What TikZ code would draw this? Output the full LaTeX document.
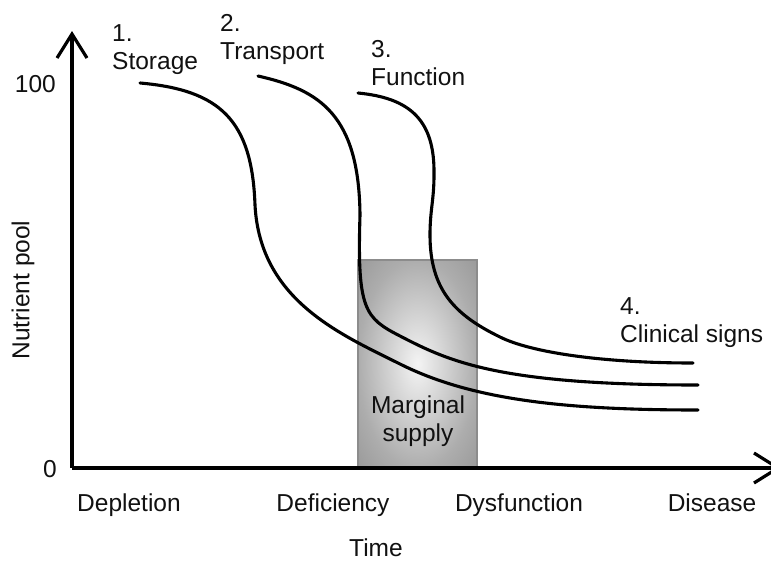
\documentclass[tikz,border=0pt]{standalone}
\usepackage{fontspec}
\setmainfont{Liberation Sans}
\usetikzlibrary{arrows.meta}
\definecolor{shC}{HTML}{F4F4F4}
\definecolor{shE}{HTML}{ADADAD}
\definecolor{shK}{HTML}{999999}
\definecolor{boxline}{HTML}{8C8C8C}
\definecolor{ink}{HTML}{111111}
\pgfdeclareradialshading{boxshade}{\pgfpoint{0bp}{0bp}}{%
  color(0bp)=(shC); color(25bp)=(shE); color(36bp)=(shK); color(50bp)=(shK)}
\begin{document}
\begin{tikzpicture}[x=1pt,y=-1pt,
  lab/.style={inner sep=0pt,text=ink,font=\fontsize{24.5}{27.5}\selectfont},
  axis/.style={line width=3.2pt,-{Straight Barb[length=24pt,width=30pt,line width=3.2pt]}},
  curve/.style={line width=3.1pt,line cap=round}]
\useasboundingbox (0,0) rectangle (771,560);
\coordinate (O) at (72,468);
\coordinate (ytip) at (72,31);
\coordinate (xtip) at (781,468);
% marginal supply box
\path[shading=boxshade] (358,260) rectangle (477,468);
\draw[boxline,line width=1.6pt] (358,468) -- (358,260) -- (477,260) -- (477,468);
% axes
\draw[axis] (O) -- (ytip);
\draw[axis] (O) -- (xtip);
% curves
\draw[curve] (140,83) .. controls (220,90) and (252,120) .. (255,205)
  .. controls (260,300) and (340,334) .. (400,364)
  .. controls (470,399) and (560,410) .. (698,410);
\draw[curve] (258,76) .. controls (320,90) and (359,115) .. (360,215)
  .. controls (357,310) and (365,318) .. (400,336)
  .. controls (450,362) and (500,385) .. (698,385);
\draw[curve] (358,93) .. controls (410,98) and (435,120) .. (434,175)
  .. controls (434,200) and (430,210) .. (430,235)
  .. controls (430,290) and (455,315) .. (500,337)
  .. controls (530,352) and (600,363) .. (693,363);
% labels
\node[lab,anchor=base east] (y100) at (56,92) {100};
\node[lab,anchor=base east] (y0) at (57,477) {0};
\node[lab,rotate=90] (ylab) at (23,290) {Nutrient pool};
\node[lab,anchor=base] (dep) at (129,511) {Depletion};
\node[lab,anchor=base] (def) at (333,511) {Deficiency};
\node[lab,anchor=base] (dys) at (519,511) {Dysfunction};
\node[lab,anchor=base] (dis) at (712,511) {Disease};
\node[lab,anchor=base] (time) at (376,556) {Time};
\node[lab,anchor=base west,align=left] (l1) at (112,69) {1.\\Storage};
\node[lab,anchor=base west,align=left] (l2) at (220,59) {2.\\Transport};
\node[lab,anchor=base west,align=left] (l3) at (371,85) {3.\\Function};
\node[lab,anchor=base west,align=left] (l4) at (620,342) {4.\\Clinical signs};
\node[lab,anchor=base,align=center] (marg) at (418,441) {Marginal\\supply};
\end{tikzpicture}
\end{document}
